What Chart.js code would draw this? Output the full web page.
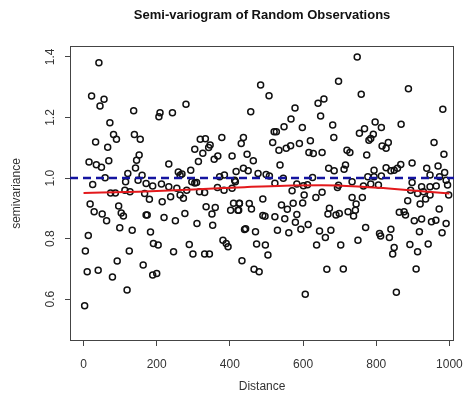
<!DOCTYPE html>
<html>
<head>
<meta charset="utf-8">
<script src="https://cdn.jsdelivr.net/npm/chart.js@4"></script>
<style>
html, body { margin: 0; padding: 0; background: #fff; }
#wrap { width: 474px; height: 404px; }
</style>
</head>
<body>
<div id="wrap"><canvas id="g1"></canvas></div>
<script>
const distance = [
  42, 22, 56, 45, 137, 72, 82, 90, 139, 155, 33, 66, 152, 145, 15, 69, 35, 49, 142, 121, 160, 59, 25, 115, 149,
  74, 87, 113, 127, 167, 18, 29, 51, 63, 96, 103, 109, 171, 99, 133, 13, 5, 125, 92, 163, 10, 40, 79, 119, 3,
  280, 209, 206, 243, 319, 333, 378, 437, 346, 342, 304, 431, 326, 367, 357, 406, 314, 233, 293, 259, 269, 264, 417, 437, 372, 385, 413, 296, 309,
  171, 189, 213, 233, 255, 282, 304, 317, 331, 366, 384, 406, 415, 180, 215, 238, 264, 273, 174, 220, 251, 277, 335, 360, 351, 310, 353,
  410, 426, 402, 422, 183, 191, 204, 289, 246, 299, 331, 344, 381, 390, 395, 440, 433, 189, 200,
  484, 507, 697, 457, 578, 641, 657, 648, 567, 548, 598, 681, 521, 527, 684, 517, 534, 554, 566, 590, 620, 616, 628, 652, 447, 464,
  537, 450, 477, 499, 508, 670, 685, 626, 546, 583, 601, 612, 697, 523,
  694, 570, 603, 652, 635, 490, 599, 426, 453, 424, 459, 541, 557, 573, 490, 496, 523, 550, 583, 579, 614, 594, 561, 530, 443, 470,
  672, 668, 699, 645, 661, 676, 637, 703, 473, 497, 504, 466, 480, 665, 710, 606,
  748, 759, 888, 982, 797, 814, 768, 754, 792, 785, 780, 868, 958, 816, 827, 833, 720, 728, 774, 985, 716, 712, 898, 867, 858, 849, 840,
  827, 794, 938, 969, 987, 777, 794, 814, 947, 973, 991, 734, 765, 785, 806, 898, 924, 947, 964, 995,
  894, 913, 929, 947, 998, 734, 762, 745, 743, 738, 723, 690, 771, 750, 809, 812, 836, 840, 849, 845, 863, 876, 880, 886, 904, 924,
  920, 935, 918, 892, 913, 942, 951, 963, 972, 991, 980, 909, 855
];
const semivariance = [
  1.381, 1.271, 1.260, 1.238, 1.222, 1.183, 1.144, 1.128, 1.144, 1.128, 1.119, 1.102, 1.076, 1.059, 1.053, 1.057, 1.044, 1.036, 1.033, 1.015, 1.009, 1.001, 0.979, 0.988, 0.993,
  0.951, 0.951, 0.960, 0.955, 0.949, 0.914, 0.889, 0.881, 0.859, 0.908, 0.885, 0.875, 0.878, 0.836, 0.828, 0.810, 0.759, 0.759, 0.726, 0.713, 0.691, 0.696, 0.673, 0.630, 0.578,
  1.244, 1.216, 1.202, 1.216, 1.128, 1.130, 1.134, 1.134, 1.109, 1.101, 1.095, 1.114, 1.082, 1.073, 1.062, 1.073, 1.055, 1.046, 1.026, 1.020, 1.013, 1.009, 1.022, 1.032, 1.004, 1.010, 0.993, 0.988, 0.985,
  0.982, 0.974, 0.980, 0.971, 0.966, 0.960, 0.984, 0.955, 0.952, 0.969, 0.960, 0.966, 0.988, 0.930, 0.922, 0.938, 0.944, 0.933, 0.878, 0.870, 0.859, 0.883, 0.905, 0.903, 0.881, 0.850, 0.844,
  0.917, 0.917, 0.894, 0.894, 0.822, 0.784, 0.779, 0.781, 0.757, 0.749, 0.749, 0.749, 0.795, 0.784, 0.773, 0.830, 0.727, 0.680, 0.685,
  1.307, 1.272, 1.320, 1.219, 1.231, 1.247, 1.261, 1.205, 1.195, 1.169, 1.167, 1.175, 1.153, 1.153, 1.134, 1.117, 1.092, 1.098, 1.107, 1.114, 1.123, 1.084, 1.081, 1.084, 1.079, 1.057,
  1.043, 1.024, 1.015, 1.012, 1.007, 1.032, 1.024, 1.002, 0.999, 0.980, 0.975, 0.978, 0.976, 0.983,
  0.969, 0.958, 0.944, 0.953, 0.936, 0.931, 0.918, 0.916, 0.916, 0.894, 0.898, 0.911, 0.897, 0.917, 0.876, 0.874, 0.872, 0.866, 0.880, 0.854, 0.847, 0.831, 0.819, 0.828, 0.833, 0.823,
  0.900, 0.881, 0.883, 0.825, 0.804, 0.828, 0.779, 0.779, 0.782, 0.779, 0.746, 0.699, 0.691, 0.699, 0.700, 0.616,
  1.400, 1.277, 1.295, 1.227, 1.185, 1.167, 1.163, 1.148, 1.145, 1.131, 1.125, 1.178, 1.117, 1.106, 1.098, 1.117, 1.092, 1.084, 1.076, 1.079, 1.043, 1.029, 1.050, 1.045, 1.032, 1.026, 1.024,
  1.034, 1.026, 1.032, 1.040, 1.018, 1.004, 1.004, 1.007, 1.010, 1.004, 0.993, 0.988, 0.974, 0.980, 0.977, 0.985, 0.971, 0.971, 0.974, 0.977,
  0.960, 0.949, 0.955, 0.944, 0.944, 0.936, 0.936, 0.914, 0.894, 0.875, 0.889, 0.878, 0.837, 0.795, 0.817, 0.809, 0.804, 0.831, 0.771, 0.749, 0.887, 0.889, 0.878, 0.925, 0.859, 0.865,
  0.914, 0.931, 0.823, 0.781, 0.757, 0.782, 0.856, 0.861, 0.898, 0.850, 0.819, 0.700, 0.623
];

// lowess-like smooth (red) and the sill reference (blue dashed)
const smoothDistance = [0, 150, 300, 440, 550, 650, 750, 850, 1000];
const smoothSemivariance = [0.951, 0.955, 0.962, 0.970, 0.975, 0.976, 0.972, 0.964, 0.949];
const sill = 1.0;

const xTicks = [0, 200, 400, 600, 800, 1000];
const yTicks = [0.6, 0.8, 1.0, 1.2, 1.4];

const xMin = -37, xMax = 1013;
const yMin = 0.462, yMax = 1.436;

const ctx = document.getElementById("g1");

const frame = {
  id: "frame",
  beforeDatasetsDraw(chart) {
    const { ctx, chartArea: a } = chart;
    ctx.save();
    ctx.strokeStyle = "#444";
    ctx.lineWidth = 1;
    ctx.strokeRect(Math.round(a.left) + 0.5, Math.round(a.top) + 0.5, Math.round(a.width) - 1, Math.round(a.height) - 1);
    ctx.restore();
  },
};

const points = distance.map((d, i) => ({ x: d, y: semivariance[i] }));
const smooth = smoothDistance.map((d, i) => ({ x: d, y: smoothSemivariance[i] }));

const data = {
  datasets: [
    {
      type: "line",
      data: [{ x: xMin, y: sill }, { x: xMax, y: sill }],
      borderColor: "#1414a0",
      borderWidth: 2.5,
      borderDash: [8, 5],
      pointRadius: 0,
    },
    {
      type: "line",
      data: smooth,
      borderColor: "#e3191c",
      borderWidth: 2,
      cubicInterpolationMode: "monotone",
      pointRadius: 0,
    },
    {
      type: "scatter",
      data: points,
      pointRadius: 3,
      pointBorderWidth: 1.5,
      borderColor: "#111",
      backgroundColor: "rgba(0,0,0,0)",
    },
  ],
};

const config = {
  type: "scatter",
  data: data,
  options: {
    responsive: true,
    maintainAspectRatio: false,
    animation: false,
    layout: { padding: { top: 0, right: 9, bottom: 0, left: 0 } },
    scales: {
      x: {
        type: "linear",
        min: xMin,
        max: xMax,
        afterBuildTicks: (s) => { s.ticks = xTicks.map((v) => ({ value: v })); },
        afterFit: (s) => { s.height = 63; },
        ticks: {
          color: "#333",
          font: { family: "Liberation Sans", size: 12 },
          padding: 11,
          maxRotation: 0,
          callback: (v) => String(v),
        },
        grid: { drawOnChartArea: false, drawTicks: true, tickLength: 5, color: "#444" },
        border: { display: false },
        title: {
          display: true,
          text: "Distance",
          color: "#333",
          font: { family: "Liberation Sans", size: 12 },
          padding: { top: 4, bottom: 10 },
        },
      },
      y: {
        type: "linear",
        min: yMin,
        max: yMax,
        afterBuildTicks: (s) => { s.ticks = yTicks.map((v) => ({ value: v })); },
        afterFit: (s) => { s.width = 70; },
        ticks: {
          color: "#333",
          font: { family: "Liberation Sans", size: 12 },
          minRotation: 90,
          maxRotation: 90,
          crossAlign: "center",
          padding: 6,
          callback: (v) => v.toFixed(1),
        },
        grid: { drawOnChartArea: false, drawTicks: true, tickLength: 5, color: "#444" },
        border: { display: false },
        title: {
          display: true,
          text: "semivariance",
          color: "#333",
          font: { family: "Liberation Sans", size: 12 },
          padding: { top: 9, bottom: 4 },
        },
      },
    },
    plugins: {
      legend: { display: false },
      tooltip: { enabled: false },
      title: {
        display: true,
        fullSize: false,
        text: "Semi-variogram of Random Observations",
        color: "#111",
        font: { family: "Liberation Sans", size: 13, weight: "bold" },
        padding: { top: 8, bottom: 22.4 },
      },
    },
  },
  plugins: [frame],
};

const chart = new Chart(ctx, config);
</script>
</body>
</html>
